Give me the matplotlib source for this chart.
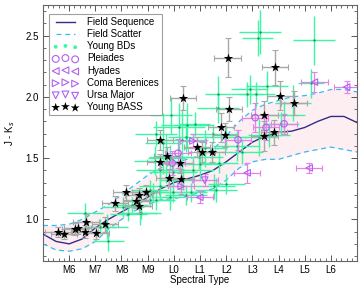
import matplotlib
matplotlib.use("Agg")
import matplotlib.pyplot as plt
import numpy as np
from matplotlib.ticker import MultipleLocator, FixedLocator

plt.rcParams['font.family'] = ['Liberation Sans', 'DejaVu Sans']

# Spectral type numeric: M0=0 ... M9=9, L0=10 ...
tick_pos = [6, 7, 8, 9, 10, 11, 12, 13, 14, 15, 16]
tick_labels = ['M6', 'M7', 'M8', 'M9', 'L0', 'L1', 'L2', 'L3', 'L4', 'L5', 'L6']

# Field sequence and scatter
field_spt = [5.0, 5.5, 6.0, 6.5, 7.0, 7.5, 8.0, 8.5, 9.0, 9.5, 10.0, 10.5, 11.0, 11.5,
             12.0, 12.5, 13.0, 13.5, 14.0, 14.5, 15.0, 15.5, 16.0, 16.5, 17.0]
field_jk = [0.88, 0.82, 0.80, 0.84, 0.93, 1.00, 1.06, 1.12, 1.18, 1.25, 1.30, 1.33, 1.36, 1.40,
            1.47, 1.55, 1.63, 1.68, 1.71, 1.72, 1.75, 1.80, 1.84, 1.84, 1.79]
upper_jk = [0.95, 0.95, 0.96, 1.00, 1.06, 1.12, 1.20, 1.28, 1.36, 1.42, 1.46, 1.49, 1.52, 1.57,
            1.68, 1.80, 1.89, 1.94, 1.97, 2.00, 2.01, 2.03, 2.06, 2.06, 2.04]
lower_jk = [0.80, 0.75, 0.74, 0.76, 0.82, 0.92, 1.00, 1.07, 1.12, 1.16, 1.17, 1.19, 1.22, 1.25,
            1.32, 1.42, 1.47, 1.49, 1.49, 1.52, 1.55, 1.57, 1.59, 1.57, 1.55]

# Young BDs
ybd_spt = [13.3, 13.2, 15.35, 12.9, 12.8, 13.15, 13.55, 11.7, 11.7, 10.5, 9.9, 10.2, 10.3,
           14.55, 14.2, 14.1, 13.65, 13.25, 15.25, 9.33, 10.47, 11.5, 12.0, 9.84, 10.98,
           11.74, 9.46, 10.73, 10.35, 11.6, 12.0, 9.2, 9.84, 9.08, 6.6, 7.43, 7.5, 8.06,
           8.7, 7.18, 9.33, 8.26, 8.76, 9.46, 9.97, 9.71, 9.27, 9.97, 10.47, 11.55, 10.66,
           9.08, 12.4, 11.2, 10.8, 12.6, 11.0, 8.4, 9.6]
ybd_jk = [2.53, 2.48, 2.46, 2.06, 2.02, 2.02, 2.09, 2.02, 1.91, 1.77, 1.85, 1.75, 1.65,
          1.95, 1.85, 1.78, 1.69, 1.67, 2.11, 1.70, 1.67, 1.70, 1.67, 1.51, 1.51,
          1.46, 1.40, 1.40, 1.32, 1.24, 1.29, 1.22, 1.18, 1.16, 1.05, 0.94, 0.82, 1.10,
          1.05, 0.94, 1.16, 1.04, 1.05, 1.27, 1.39, 1.50, 1.48, 1.22, 1.20, 1.27, 1.22,
          1.24, 1.60, 1.58, 1.78, 1.55, 1.45, 1.12, 1.62]
ybd_xerr = [0.8, 0.6, 0.8, 0.7, 0.6, 0.7, 0.8, 0.5, 0.8, 1.0, 0.8, 1.0, 1.0,
            0.7, 0.8, 0.7, 0.8, 0.7, 0.5, 0.8, 0.7, 0.9, 0.8, 0.8, 0.9,
            0.7, 0.9, 0.8, 0.9, 0.8, 0.7, 0.8, 0.6, 0.9, 0.7, 0.8, 0.6, 0.8,
            0.8, 0.6, 0.7, 0.7, 0.6, 0.8, 0.9, 0.7, 0.8, 0.9, 0.8, 0.8, 0.6,
            0.7, 0.9, 0.8, 0.6, 0.8, 0.9, 0.6, 0.7]
ybd_yerr = [0.18, 0.15, 0.20, 0.12, 0.10, 0.10, 0.12, 0.15, 0.12, 0.18, 0.15, 0.20, 0.25,
            0.15, 0.12, 0.10, 0.10, 0.15, 0.12, 0.10, 0.12, 0.08, 0.10, 0.10, 0.10,
            0.08, 0.12, 0.10, 0.08, 0.10, 0.08, 0.08, 0.10, 0.06, 0.08, 0.10, 0.08, 0.08,
            0.10, 0.06, 0.08, 0.05, 0.05, 0.10, 0.12, 0.20, 0.12, 0.08, 0.08, 0.10, 0.08,
            0.08, 0.12, 0.15, 0.10, 0.10, 0.12, 0.06, 0.25]

# Pleiades
ple_spt = [9.94, 10.16, 12.45, 13.11, 13.52, 14.21]
ple_jk = [1.46, 1.54, 1.65, 1.83, 1.75, 1.78]
ple_xerr = [0.5, 0.5, 0.5, 0.5, 0.5, 0.5]
ple_yerr = [0.10, 0.12, 0.08, 0.12, 0.10, 0.08]
# Hyades
hya_spt = [10.99, 12.8, 15.17, 15.37, 16.6]
hya_jk = [1.18, 1.38, 1.42, 2.12, 2.08]
hya_xerr = [0.5, 0.5, 0.5, 0.5, 0.5]
hya_yerr = [0.05, 0.08, 0.04, 0.08, 0.05]
# Coma Berenices
com_spt = [10.73, 10.28]
com_jk = [1.64, 1.27]
com_xerr = [0.5, 0.5]
com_yerr = [0.06, 0.06]
# Ursa Major
uma_spt = [11.18]
uma_jk = [1.32]
uma_xerr = [0.5]
uma_yerr = [0.05]

# Young BASS
bass_spt = [5.56, 5.80, 6.23, 6.32, 6.63, 6.61, 7.04, 7.36, 7.74, 8.18, 8.56, 8.65, 8.65,
            8.92, 9.46, 9.47, 9.74, 9.80, 10.25, 10.28, 10.36, 10.88, 11.06, 11.46, 11.79,
            11.96, 12.05, 12.10, 13.46, 13.46, 13.84, 13.88, 14.05, 14.59]
bass_jk = [0.90, 0.88, 0.92, 0.93, 0.98, 0.90, 0.89, 0.96, 1.13, 1.22, 1.15, 1.20, 1.11,
           1.22, 1.65, 1.47, 1.52, 1.34, 1.46, 1.33, 1.99, 1.59, 1.55, 1.55, 1.75,
           1.69, 2.32, 1.90, 1.85, 1.68, 1.71, 2.24, 2.01, 1.95]
bass_xerr = [0.5, 0.5, 0.5, 0.5, 0.5, 0.5, 0.5, 0.5, 0.5, 0.5, 0.5, 0.5, 0.5,
             0.5, 0.5, 0.5, 0.5, 0.5, 0.5, 0.5, 0.5, 0.5, 0.5, 0.5, 0.5,
             0.5, 0.5, 0.5, 0.5, 0.5, 0.5, 0.5, 0.5, 0.5]
bass_yerr = [0.04, 0.04, 0.05, 0.05, 0.06, 0.05, 0.05, 0.06, 0.06, 0.06, 0.06, 0.06, 0.06,
             0.06, 0.08, 0.06, 0.07, 0.07, 0.08, 0.08, 0.10, 0.08, 0.08, 0.08, 0.12,
             0.10, 0.16, 0.10, 0.12, 0.12, 0.10, 0.14, 0.12, 0.10]

fig = plt.figure(figsize=(3.64, 2.91), dpi=100)
ax = fig.add_axes([0.118, 0.103, 0.863, 0.880])

navy = '#352c86'
sky = '#33bbf5'
green_bar = '#3cf5a5'
green_dot = '#1c9f55'
vio_bar = '#e97fea'
vio_mk = '#b060f0'

ax.fill_between(field_spt, lower_jk, upper_jk, color='#fdeef2', lw=0, zorder=1)
ax.plot(field_spt, upper_jk, color=sky, ls=(0, (4, 3)), lw=0.9, zorder=2)
ax.plot(field_spt, lower_jk, color=sky, ls=(0, (4, 3)), lw=0.9, zorder=2)
ax.plot(field_spt, field_jk, color=navy, lw=1.0, zorder=3)

ax.errorbar(ybd_spt, ybd_jk, xerr=ybd_xerr, yerr=ybd_yerr, fmt='none',
            ecolor=green_bar, elinewidth=1.0, capsize=0, zorder=4)
ax.scatter(ybd_spt, ybd_jk, s=3, color=green_dot, zorder=5, linewidths=0)

ax.errorbar(bass_spt, bass_jk, xerr=bass_xerr, yerr=bass_yerr, fmt='none',
            ecolor='#a8a8a8', elinewidth=1.0, capsize=2, capthick=0.8, zorder=6)

for xs, ys, xe, ye, mk in [(ple_spt, ple_jk, ple_xerr, ple_yerr, 'o'),
                           (hya_spt, hya_jk, hya_xerr, hya_yerr, '<'),
                           (com_spt, com_jk, com_xerr, com_yerr, '>'),
                           (uma_spt, uma_jk, uma_xerr, uma_yerr, 'v')]:
    ax.errorbar(xs, ys, xerr=xe, yerr=ye, fmt='none', ecolor=vio_bar,
                elinewidth=0.9, capsize=2, capthick=0.8, zorder=7)
    ax.scatter(xs, ys, marker=mk, s=22, facecolors='none', edgecolors=vio_mk,
               linewidths=0.8, zorder=8)

ax.scatter(bass_spt, bass_jk, marker='*', s=50, color='black', zorder=9, linewidths=0)

# legend proxies
h1, = ax.plot([], [], color=navy, lw=1.0)
h2, = ax.plot([], [], color=sky, ls=(0, (4, 3)), lw=0.9)
h3 = ax.scatter([], [], s=3, color=green_bar)
h4 = ax.scatter([], [], marker='o', s=24, facecolors='none', edgecolors=vio_mk, linewidths=0.8)
h5 = ax.scatter([], [], marker='<', s=24, facecolors='none', edgecolors=vio_mk, linewidths=0.8)
h6 = ax.scatter([], [], marker='>', s=24, facecolors='none', edgecolors=vio_mk, linewidths=0.8)
h7 = ax.scatter([], [], marker='v', s=24, facecolors='none', edgecolors=vio_mk, linewidths=0.8)
h8 = ax.scatter([], [], marker='*', s=45, color='black', linewidths=0)
leg = ax.legend([h1, h2, h3, h4, h5, h6, h7, h8],
                ['Field Sequence', 'Field Scatter', 'Young BDs', 'Pleiades', 'Hyades',
                 'Coma Berenices', 'Ursa Major', 'Young BASS'],
                loc='upper left', fontsize=7, scatterpoints=3, numpoints=3,
                frameon=True, fancybox=False, borderpad=0.35, labelspacing=0.22,
                handlelength=2.6, handletextpad=0.9, borderaxespad=0.5,
                bbox_to_anchor=(0.005, 0.985))
leg.get_frame().set_edgecolor('#888888')
leg.get_frame().set_linewidth(0.8)
leg.set_zorder(20)

ax.set_xlim(5, 17)
ax.set_ylim(0.66, 2.75)
ax.xaxis.set_major_locator(FixedLocator(tick_pos))
ax.set_xticklabels(tick_labels)
ax.xaxis.set_minor_locator(MultipleLocator(0.2))
ax.yaxis.set_major_locator(FixedLocator([1.0, 1.5, 2.0, 2.5]))
ax.yaxis.set_minor_locator(MultipleLocator(0.1))
ax.tick_params(which='both', direction='in', top=True, right=True, labelsize=7,
               color='#555555', pad=3)
ax.tick_params(which='major', length=4, width=0.7)
ax.tick_params(which='minor', length=2, width=0.6)
for s in ax.spines.values():
    s.set_color('#666666')
    s.set_linewidth(0.8)

ax.set_xlabel('Spectral Type', fontsize=7, labelpad=0)
ax.set_ylabel('J - K$_s$', fontsize=7, labelpad=6)

fig.savefig('out.png', dpi=100)
